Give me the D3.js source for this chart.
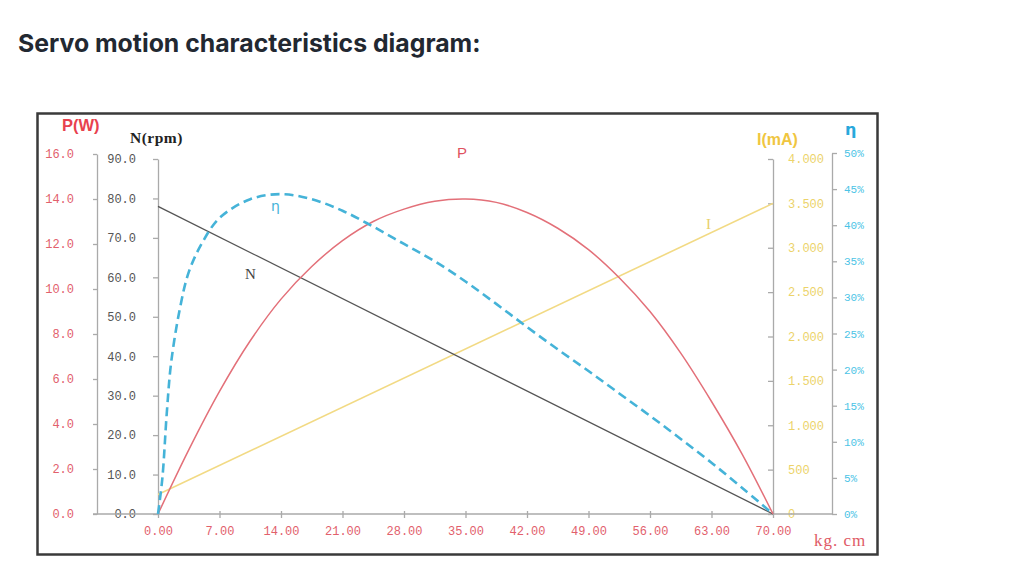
<!DOCTYPE html>
<html>
<head>
<meta charset="utf-8">
<script src="https://cdn.jsdelivr.net/npm/d3@7"></script>
<style>
body{margin:0;background:#fff}
svg{display:block}
.mono{font-family:"Liberation Mono","DejaVu Sans Mono",monospace}
</style>
</head>
<body>
<div id="chart"></div>
<script>
// torque (kg.cm) along the bottom
const xTicks=[0,7,14,21,28,35,42,49,56,63,70]

// P(W) read at every 3.5 kg.cm
const powerTorque=[0,3.5,7,10.5,14,17.5,21,24.5,28,31.5,35,38.5,42,45.5,49,52.5,56,59.5,63,66.5,70]
const powerW=[0,2.85,5.45,7.7,9.55,11.0,12.15,13.0,13.55,13.9,14.0,13.85,13.4,12.7,11.75,10.5,9.0,7.15,5.0,2.65,0]

// efficiency (%), more points near zero where it climbs fast
const effTorque=[0,0.5,1,1.5,2.5,3.5,5,7,10.5,14,17.5,21,24.5,28,31.5,35,38.5,42,45.5,49,52.5,56,59.5,63,66.5,70]
const effPct=[0,5,14,21,28.5,33.5,37.5,41,43.6,44.3,43.6,42,39.8,37.4,35,32.2,29.1,25.9,22.8,19.8,16.7,13.6,10.4,7.1,3.6,0]

// speed N(rpm) and current I(mA), straight lines
const speedTorque=[0,70]
const speedRpm=[78,0]
const currentTorque=[0,70]
const currentMA=[220,3500]

const pTicks=[0,2,4,6,8,10,12,14,16]
const nTicks=[0,10,20,30,40,50,60,70,80,90]
const iTicks=[0,500,1000,1500,2000,2500,3000,3500,4000]
const iTickLabels=["0","500","1.000","1.500","2.000","2.500","3.000","3.500","4.000"]
const eTicks=[0,5,10,15,20,25,30,35,40,45,50]

const W=1009,H=582
const svg=d3.select("#chart").append("svg").attr("width",W).attr("height",H)

svg.append("text")
.attr("x",18).attr("y",52)
.attr("font-family","Inter, Roboto, sans-serif")
.attr("font-weight",700)
.attr("font-size",24.8)
.attr("fill","#222831")
.text("Servo motion characteristics diagram:")

// frame
svg.append("rect")
.attr("x",37.5).attr("y",113.5).attr("width",840).attr("height",441)
.attr("fill","none").attr("stroke","#3a3a3a").attr("stroke-width",2.5)

const base=514
const x=d3.scaleLinear([0,70],[158,773])
const yP=d3.scaleLinear([0,16],[base,154])
const yN=d3.scaleLinear([0,90],[base,159])
const yI=d3.scaleLinear([0,4000],[base,159])
const yE=d3.scaleLinear([0,50],[base,153])

const red="#e2606c",grey="#aaa"

function styleAxis(g,color,size){
g.select(".domain").attr("stroke",grey).attr("stroke-width",1.3)
g.selectAll(".tick line").attr("stroke",grey).attr("stroke-width",1.3)
g.selectAll(".tick text").attr("class","mono").attr("fill",color).attr("font-size",size)
}

// P axis
const gP=svg.append("g").attr("transform","translate(97,0)")
.call(d3.axisLeft(yP).tickValues(pTicks).tickFormat(d3.format(".1f")).tickSize(4).tickSizeOuter(0).tickPadding(19))
styleAxis(gP,red,12)

// N axis
const gN=svg.append("g").attr("transform","translate(158,0)")
.call(d3.axisLeft(yN).tickValues(nTicks).tickFormat(d3.format(".1f")).tickSize(5).tickSizeOuter(0).tickPadding(17))
styleAxis(gN,"#555",12)

// I axis
const gI=svg.append("g").attr("transform","translate(773,0)")
.call(d3.axisLeft(yI).tickValues(iTicks).tickFormat((d,i)=>iTickLabels[i]).tickSize(5).tickSizeOuter(0))
styleAxis(gI,"#ecd36a",12)
gI.selectAll(".tick text").attr("text-anchor","start").attr("x",15)

// eta axis
const gE=svg.append("g").attr("transform","translate(832,0)")
.call(d3.axisRight(yE).tickValues(eTicks).tickFormat(d=>d+"%").tickSize(5).tickSizeOuter(0).tickPadding(7))
styleAxis(gE,"#4cc4e6",11)

// base line under everything
svg.append("line").attr("x1",93).attr("x2",832).attr("y1",base).attr("y2",base)
.attr("stroke",grey).attr("stroke-width",1.5)

// x axis
const gX=svg.append("g").attr("transform","translate(0,"+base+")")
.call(d3.axisBottom(x).tickValues(xTicks).tickFormat(d3.format(".2f")).tickSize(4).tickSizeOuter(0).tickPadding(8))
gX.select(".domain").remove()
gX.selectAll(".tick line").attr("y1",-3).attr("y2",4).attr("stroke",grey).attr("stroke-width",1.3)
gX.selectAll(".tick text").attr("class","mono").attr("fill",red).attr("font-size",12)

// curves
const lineOf=(xs,ys,yScale,curve)=>d3.line().curve(curve||d3.curveLinear)
.x((d,i)=>x(xs[i])).y(d=>yScale(d))(ys)

svg.append("path").attr("d",lineOf(currentTorque,currentMA,yI))
.attr("fill","none").attr("stroke","#f2da84").attr("stroke-width",1.6)

svg.append("path").attr("d",lineOf(speedTorque,speedRpm,yN))
.attr("fill","none").attr("stroke","#555").attr("stroke-width",1.3)

svg.append("path").attr("d",lineOf(powerTorque,powerW,yP,d3.curveCatmullRom.alpha(0.5)))
.attr("fill","none").attr("stroke","#e37079").attr("stroke-width",1.5)

svg.append("path").attr("d",lineOf(effTorque,effPct,yE,d3.curveCatmullRom.alpha(0.5)))
.attr("fill","none").attr("stroke","#45b3d8").attr("stroke-width",2.6).attr("stroke-dasharray","9,5")

// axis titles
const lbl=(tx,ty,t,color,font,size,weight)=>svg.append("text").attr("x",tx).attr("y",ty)
.attr("font-family",font).attr("font-size",size).attr("font-weight",weight||400)
.attr("fill",color).text(t)

lbl(62,131,"P(W)","#e8424e","Liberation Sans, Arial, sans-serif",16.5,700)
lbl(130,143,"N(rpm)","#222","Liberation Serif, serif",15.5,700).attr("letter-spacing",0.5)
lbl(757,145,"I(mA)","#f0c640","Liberation Sans, Arial, sans-serif",16,700)
lbl(845,135,"η","#28a8dc","DejaVu Sans, sans-serif",16,700)
lbl(814,546,"kg. cm","#e05a66","Liberation Serif, serif",17,400).attr("letter-spacing",1)

// curve labels
lbl(457,158,"P","#e05260","Liberation Sans, Arial, sans-serif",15,400)
lbl(271,211,"η","#45b3d8","DejaVu Sans, sans-serif",14,400)
lbl(245,279,"N","#444","Liberation Serif, serif",15,400)
lbl(706,229,"I","#e8cf6a","Liberation Serif, serif",15,400)
</script>
</body>
</html>
